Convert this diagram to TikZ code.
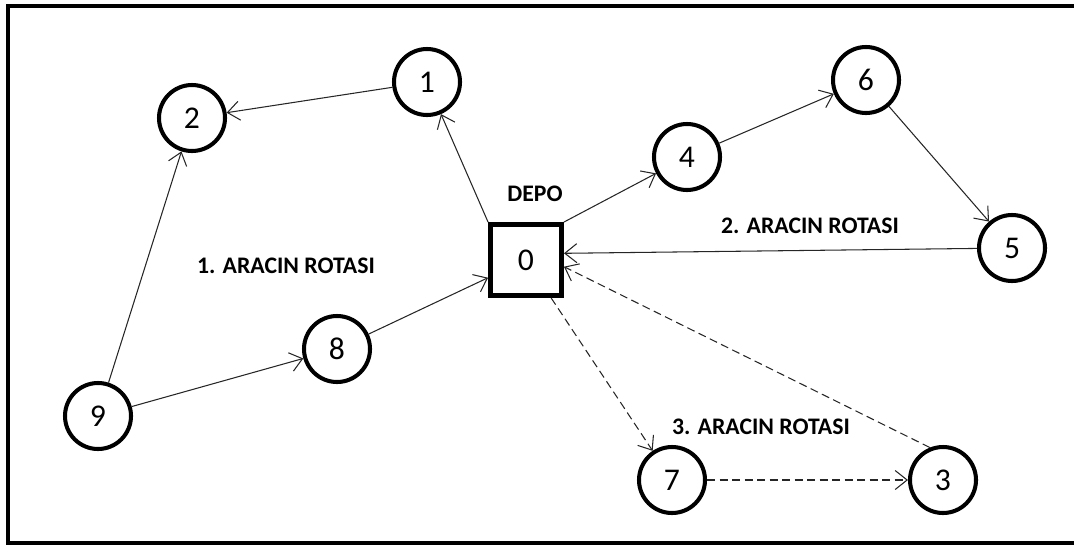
\documentclass[tikz,border=0pt]{standalone}
\usepackage{fontspec}
\setmainfont{Carlito}
\usetikzlibrary{arrows.meta}

\begin{document}
\begin{tikzpicture}[x=0.2mm,y=-0.2mm,
        >={Straight Barb[length=2.4mm,width=3.8mm]},
        city/.style={circle,draw,line width=2.3pt,minimum size=13.2mm,inner sep=0pt,font=\fontsize{18}{20}\selectfont},
        depot/.style={rectangle,draw,line width=2.8pt,minimum size=14.2mm,inner sep=0pt,font=\fontsize{18}{20}\selectfont},
        tag/.style={font=\fontsize{13.5}{16}\selectfont\bfseries},
        route/.style={->,line width=0.6pt,draw=black!85},
        back/.style={route,dash pattern=on 1.6mm off 0.9mm}]
        \useasboundingbox (0,0) rectangle (1074,546);

        % the frame
        \draw[line width=2.3pt] (8,6) rectangle (1090,543);

        % the depot and the customers
        \node[depot] (d0) at (526,260) {0};
        \node[city] (c1) at (427,82) {1};
        \node[city] (c2) at (192,118) {2};
        \node[city] (c3) at (943,480) {3};
        \node[city] (c4) at (687,157) {4};
        \node[city] (c5) at (1012,248) {5};
        \node[city] (c6) at (866,80) {6};
        \node[city] (c7) at (672,480) {7};
        \node[city] (c8) at (337,349) {8};
        \node[city] (c9) at (98,416) {9};

        % the texts
        \node[tag] (depo) at (535,194) {DEPO};
        \node[tag] (r1) at (286,266) {1. ARACIN ROTASI};
        \node[tag] (r2) at (810,226) {2. ARACIN ROTASI};
        \node[tag] (r3) at (761,427) {3. ARACIN ROTASI};

        % first vehicle
        \draw[route] (d0.north west) -- (c1);
        \draw[route] (c1) -- (c2);
        \draw[route] (c9) -- (c2);
        \draw[route] (c9) -- (c8);
        \draw[route] (c8) -- (d0.205);

        % second vehicle
        \draw[route] (d0.north east) -- (c4);
        \draw[route] (c4) -- (c6);
        \draw[route] (c6) -- (c5);
        \draw[route] (c5) -- (d0.10);

        % third vehicle
        \draw[back] (d0) -- (c7);
        \draw[back] (c7) -- (c3);
        \draw[back] (c3.112) -- (d0.-10);

    \end{tikzpicture}
\end{document}
